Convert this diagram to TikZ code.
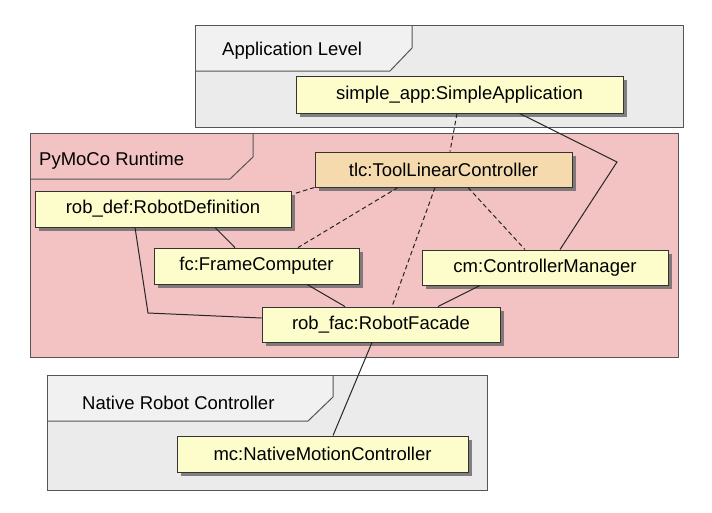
\documentclass[tikz,border=0pt]{standalone}
\usepackage{fontspec}
\setmainfont{Liberation Sans}
\usetikzlibrary{shadows}
\definecolor{nodefill}{HTML}{FDFCCB}
\definecolor{tlcfill}{HTML}{F5DAAE}
\definecolor{pinkfill}{HTML}{F3C2C2}
\definecolor{grayfill}{HTML}{EBEBEB}
\definecolor{tabgray}{HTML}{F1F1F1}
\definecolor{framedraw}{HTML}{555555}
\tikzset{
  obj/.style={draw=black!80, line width=0.9pt, fill=nodefill, rectangle, inner sep=0pt,
    font=\fontsize{18.5}{21}\selectfont,
    drop shadow={shadow xshift=3.5pt, shadow yshift=-3.5pt, fill=black!60, opacity=0.8}},
  frm/.style={draw=framedraw, line width=1pt},
  lbl/.style={anchor=west, font=\fontsize{18.5}{21}\selectfont, inner sep=0pt},
  dep/.style={draw=black!85, line width=1pt, dashed, dash pattern=on 4.5pt off 3pt},
  assoc/.style={draw=black!85, line width=1pt}
}
\begin{document}
\begin{tikzpicture}[x=1pt, y=-1pt]
\useasboundingbox (0,0) rectangle (712,512);
% Application Level frame
\fill[grayfill] (195,25) rectangle (683,127);
\fill[tabgray] (195,25) -- (412,25) -- (412,48) -- (390,71) -- (195,71) -- cycle;
\draw[frm] (412,25) -- (412,48) -- (390,71) -- (195,71);
\draw[frm] (195,25) rectangle (683,127);
\node[lbl] (applbl) at (222,51) {Application Level};
% PyMoCo Runtime frame
\fill[pinkfill] (30,133) rectangle (678,357);
\draw[frm] (253,133) -- (253,157) -- (230,179) -- (30,179);
\draw[frm] (30,133) rectangle (678,357);
\node[lbl] (pylbl) at (39,161) {PyMoCo Runtime};
% Native Robot Controller frame
\fill[grayfill] (47,375) rectangle (487,490);
\fill[tabgray] (47,375) -- (333,375) -- (333,397) -- (308,421) -- (47,421) -- cycle;
\draw[frm] (333,375) -- (333,397) -- (308,421) -- (47,421);
\draw[frm] (47,375) rectangle (487,490);
\node[lbl] (nrclbl) at (82,403) {Native Robot Controller};
% Objects
\node[obj, minimum width=327pt, minimum height=37pt] (sa) at (459.5,94.5) {simple\_app:SimpleApplication};
\node[obj, fill=tlcfill, minimum width=257pt, minimum height=35pt] (tlc) at (443.5,169.5) {tlc:ToolLinearController};
\node[obj, minimum width=256pt, minimum height=36pt] (rd) at (163,209) {rob\_def:RobotDefinition};
\node[obj, minimum width=205pt, minimum height=36pt] (fc) at (256.5,266) {fc:FrameComputer};
\node[obj, minimum width=246pt, minimum height=35pt] (cm) at (545,267.5) {cm:ControllerManager};
\node[obj, minimum width=238pt, minimum height=35pt] (rf) at (381,324.5) {rob\_fac:RobotFacade};
\node[obj, minimum width=291pt, minimum height=36pt] (mc) at (322.5,454) {mc:NativeMotionController};
\coordinate (bendcm) at (617,162);
\coordinate (bendrd) at (148,313);
% Connectors
\draw[dep] ([xshift=-2.5pt]sa.south) -- ([xshift=6.5pt]tlc.north);
\draw[assoc] ([xshift=60pt]sa.south) -- (bendcm) -- ([xshift=15pt]cm.north);
\draw[dep] (tlc.south west) -- ([xshift=3pt,yshift=-3pt]rd.north east);
\draw[dep] ([xshift=-45.5pt]tlc.south) -- ([xshift=41.5pt]fc.north);
\draw[dep] ([xshift=-8.5pt]tlc.south) -- ([xshift=11pt]rf.north);
\draw[dep] ([xshift=24.5pt]tlc.south) -- ([xshift=-20pt]cm.north);
\draw[assoc] ([xshift=52pt]rd.south) -- ([xshift=-21.5pt]fc.north);
\draw[assoc] ([xshift=-28pt]rd.south) -- (bendrd) -- ([yshift=6.5pt]rf.west);
\draw[assoc] ([xshift=50.5pt]fc.south) -- ([xshift=-36pt]rf.north);
\draw[assoc] ([xshift=-65pt]cm.south) -- ([xshift=57pt]rf.north);
\draw[assoc] ([xshift=-9pt]rf.south) -- ([xshift=10.5pt]mc.north);
\end{tikzpicture}
\end{document}
